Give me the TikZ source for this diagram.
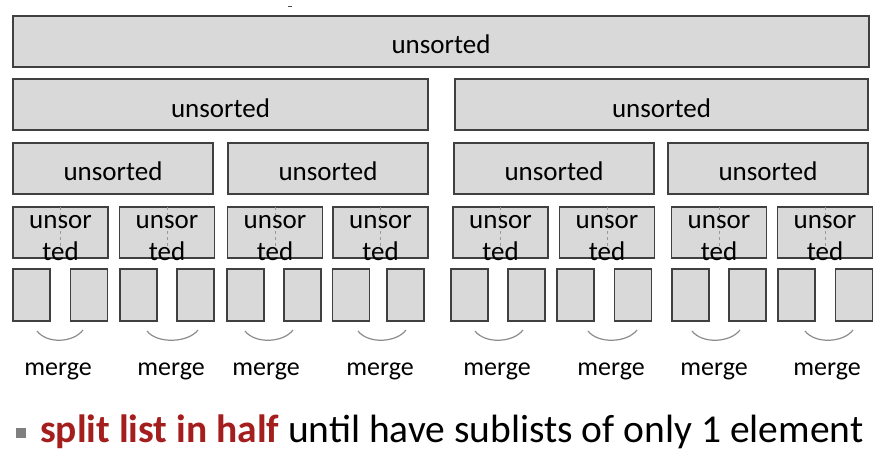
\documentclass[tikz,border=0pt]{standalone}
\usepackage{fontspec}
\setmainfont{Carlito}
\definecolor{boxfill}{HTML}{D9D9D9}
\definecolor{boxline}{HTML}{404040}
\definecolor{arcgray}{HTML}{8C8C8C}
\definecolor{darkred}{HTML}{A51E1E}
\definecolor{bulletgray}{HTML}{7F7F7F}
\begin{document}
\begin{tikzpicture}[x=1pt,y=-1pt,
  box/.style={draw=boxline, fill=boxfill, line width=1.4pt, inner sep=0pt, outer sep=0pt},
  lbl/.style={inner sep=0pt, anchor=base, font=\fontsize{27}{32}\selectfont, text=black},
  mlbl/.style={inner sep=0pt, anchor=base, font=\fontsize{26}{30}\selectfont, text=black},
  mergearc/.style={draw=arcgray, line width=1.2pt},
  midline/.style={draw=gray!80, dashed, line width=0.8pt}]
\useasboundingbox (0,0) rectangle (889,461);
% row 1
\node[box, minimum width=856pt, minimum height=51pt] (r1) at (441,41.5) {};
\node[lbl] (t1) at (441,53) {unsorted};
% row 2
\node[box, minimum width=415pt, minimum height=51pt] (r2a) at (220.5,104.5) {};
\node[box, minimum width=413pt, minimum height=51pt] (r2b) at (661.5,104.5) {};
\node[lbl] (t2a) at (220.5,117) {unsorted};
\node[lbl] (t2b) at (661.5,117) {unsorted};
% row 3
\foreach \i/\x in {a/113, b/328, c/554, d/768}{
  \node[box, minimum width=200pt, minimum height=51pt] (r3\i) at (\x,168.5) {};
  \node[lbl] (t3\i) at (\x,180) {unsorted};
}
% row 4
\foreach \i/\x in {1/60.5, 2/167, 3/275, 4/380.5, 5/500.5, 6/607, 7/719, 8/825}{
  \node[box, minimum width=95pt, minimum height=51pt] (r4\i) at (\x,232.5) {};
  \coordinate (m4\i) at (\x,250);
  \draw[midline] (r4\i.north) -- (m4\i);
  \node[lbl] (u4\i) at (\x,228) {unsor};
  \node[lbl] (d4\i) at (\x,260) {ted};
}
% row 5
\foreach \i/\xa/\xb in {1/31.5/89, 2/138.5/195.5, 3/245.5/302.5, 4/351/405.5, 5/469.5/526.5, 6/575.5/633, 7/690.5/747.5, 8/796.5/854}{
  \node[box, minimum width=37pt, minimum height=52pt] (p\i a) at (\xa,295) {};
  \node[box, minimum width=37pt, minimum height=52pt] (p\i b) at (\xb,295) {};
}
% merge arcs and labels
\foreach \i/\xa/\xb/\xm in {1/37/83/58, 2/147/198/171, 3/245/293/266, 4/358/406/380, 5/475/523/497, 6/588/637/611, 7/692/740/714, 8/805/853/827}{
  \coordinate (al\i) at (\xa,331);
  \coordinate (ar\i) at (\xb,330);
  \draw[mergearc] (al\i) .. controls ([xshift=10pt,yshift=-13pt]al\i) and ([xshift=-10pt,yshift=-13pt]ar\i) .. (ar\i);
  \node[mlbl] (mg\i) at (\xm,375) {merge};
}
% top tiny mark
\coordinate (tk1) at (288,6);
\coordinate (tk2) at (292,6);
\draw[black!70, line width=0.8pt] (tk1) -- (tk2);
% bullet text
\node[fill=bulletgray, minimum size=10pt, inner sep=0pt] (bul) at (21,432.5) {};
\node[inner sep=0pt, anchor=base west, font=\fontsize{39.5}{46}\selectfont] (bt) at (40,442)
  {\textcolor{darkred}{\bfseries split list in half} until have sublists of only 1 element};
\end{tikzpicture}
\end{document}
